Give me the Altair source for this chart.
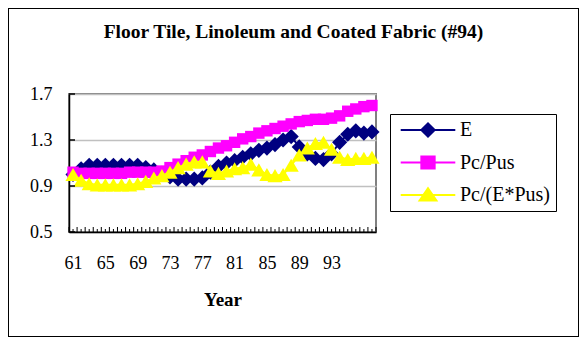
import altair as alt
import pandas as pd

years = list(range(61, 99))
e_vals = [1.00, 1.05, 1.08, 1.08, 1.08, 1.08, 1.08, 1.08, 1.08, 1.06,
          1.04, 1.01, 0.98, 0.96, 0.96, 0.96, 0.97, 1.02, 1.07, 1.10,
          1.12, 1.15, 1.18, 1.21, 1.23, 1.26, 1.30, 1.33, 1.24, 1.18,
          1.14, 1.13, 1.18, 1.28, 1.35, 1.38, 1.36, 1.37]
pc_pus = [1.02, 1.01, 1.01, 1.01, 1.01, 1.01, 1.01, 1.02, 1.02, 1.02,
          1.02, 1.03, 1.06, 1.09, 1.12, 1.15, 1.17, 1.20, 1.23, 1.25,
          1.28, 1.31, 1.33, 1.36, 1.38, 1.40, 1.42, 1.44, 1.46, 1.47,
          1.48, 1.48, 1.49, 1.51, 1.55, 1.57, 1.59, 1.60]
pc_epus = [1.00, 0.95, 0.92, 0.91, 0.91, 0.91, 0.91, 0.91, 0.92, 0.94,
           0.97, 0.99, 1.02, 1.06, 1.09, 1.11, 1.11, 1.03, 1.01, 1.03,
           1.05, 1.06, 1.09, 1.04, 1.00, 0.99, 1.00, 1.08, 1.17, 1.23,
           1.27, 1.28, 1.22, 1.15, 1.13, 1.14, 1.14, 1.15]

series_names = ["E", "Pc/Pus", "Pc/(E*Pus)"]
series_colors = ["#000080", "#FF00FF", "#FFFF00"]
series_shapes = ["diamond", "square", "triangle-up"]
series_sizes = [230, 130, 230]
legend_paths = [
    "M-3.9,0L3.9,0M-0.95,0L0,-0.95L0.95,0L0,0.95Z",
    "M-3.9,0L3.9,0M-0.95,-0.85L0.95,-0.85L0.95,0.85L-0.95,0.85Z",
    "M-3.9,0L3.9,0M-1.2,0.8L0,-0.95L1.2,0.8Z",
]
y_ticks = [0.5, 0.9, 1.3, 1.7]
x_labels = [61, 65, 69, 73, 77, 81, 85, 89, 93]
title_text = "Floor Tile, Linoleum and Coated Fabric (#94)"

W, H = 307, 138
PL, PT = 61, 86
PR = 571 - PL - W
PB = 329 - PT - H
FONT = "Liberation Serif"

rows = []
for name, vals in zip(series_names, [e_vals, pc_pus, pc_epus]):
    for yr, v in zip(years, vals):
        rows.append({"year": yr, "series": name, "value": v})
df = pd.DataFrame(rows)

xscale = alt.Scale(domain=[60.5, 98.5], nice=False, zero=False)
yscale = alt.Scale(domain=[0.5, 1.7], nice=False, zero=False)

x_axis = alt.Axis(values=x_labels, format="d", grid=False, ticks=False,
                  labelOverlap=False,
                  labelFont=FONT, labelFontSize=18, labelColor="black",
                  labelPadding=22, domainColor="black", domainWidth=1.5,
                  titleFont=FONT, titleFontSize=19, titleFontWeight="bold",
                  titleColor="black", titlePadding=18)
y_axis = alt.Axis(values=y_ticks, format=".1f", grid=True, gridColor="#C0C0C0",
                  gridWidth=1.5, ticks=False, labelFont=FONT, labelFontSize=18,
                  labelColor="black", labelPadding=17, domainColor="black",
                  domainWidth=1.5, labelOverlap=False)


def X(field):
    return alt.X(field, scale=xscale, title="Year", axis=x_axis)


def Y(field):
    return alt.Y(field, scale=yscale, title=None, axis=y_axis)


layers = []
for i, name in enumerate(series_names):
    sub = alt.Chart(df).transform_filter(alt.datum.series == name)
    line = sub.mark_line(strokeWidth=2, color=series_colors[i]).encode(
        x=X("year:Q"), y=Y("value:Q"))
    pts = sub.mark_point(shape=series_shapes[i], size=series_sizes[i], filled=True,
                         opacity=1, color=series_colors[i]).encode(
        x=X("year:Q"), y=Y("value:Q"))
    layers += [line, pts]

leg = dict(title=None, orient="none", legendX=321, legendY=20,
           strokeColor="black", fillColor="white", padding=6,
           labelFont=FONT, labelFontSize=20, labelColor="black",
           symbolSize=196, symbolStrokeWidth=2, symbolOffset=22, labelOffset=22,
           rowPadding=10.5, gridAlign="all", symbolOpacity=1)

legend_layer = alt.Chart(df).mark_point(filled=True, opacity=0).encode(
    x=X("year:Q"), y=Y("value:Q"),
    fill=alt.Fill("series:N", scale=alt.Scale(domain=series_names, range=series_colors),
                  legend=alt.Legend(**leg)),
    stroke=alt.Stroke("series:N", scale=alt.Scale(domain=series_names, range=series_colors),
                      legend=alt.Legend(**leg)),
    shape=alt.Shape("series:N", scale=alt.Scale(domain=series_names, range=legend_paths),
                    legend=alt.Legend(**leg)),
)

# inward tick marks
tick_major = pd.DataFrame({"year": [y - 0.5 for y in years] + [years[-1] + 0.5]})
tick_minor = pd.DataFrame({"year": years})
xt_major = alt.Chart(tick_major).mark_rule(color="black", strokeWidth=1).encode(
    x=X("year:Q"), y=alt.value(H), y2=alt.value(H - 5))
xt_minor = alt.Chart(tick_minor).mark_rule(color="black", strokeWidth=1).encode(
    x=X("year:Q"), y=alt.value(H), y2=alt.value(H - 3))
ytick_df = pd.DataFrame({"value": y_ticks})
yt = alt.Chart(ytick_df).mark_rule(color="black", strokeWidth=1.5).encode(
    y=Y("value:Q"), x=alt.value(0), x2=alt.value(6))

frame = alt.Chart(ytick_df).mark_rect(fillOpacity=0, stroke="black", strokeWidth=1).encode(
    x=alt.value(-PL + 0.5), x2=alt.value(W + PR - 0.5),
    y=alt.value(-PT + 0.5), y2=alt.value(H + PB - 0.5))

title_df = pd.DataFrame({"t": [title_text]})
title_mark = alt.Chart(title_df).mark_text(
    font=FONT, fontSize=19.5, fontWeight="bold", color="black",
    align="center", baseline="alphabetic").encode(
    text="t:N", x=alt.value(W / 2 + 71), y=alt.value(-56))

chart = alt.layer(*layers, xt_major, xt_minor, legend_layer, yt, frame, title_mark).properties(
    width=W, height=H,
    padding={"left": PL, "top": PT, "right": PR, "bottom": PB},
    autosize=alt.AutoSizeParams(type="none"),
    background="white",
).configure_view(
    stroke="#808080", strokeWidth=2, fill="white"
)

chart.save("out.html", embed_options={"renderer": "svg", "actions": False})
